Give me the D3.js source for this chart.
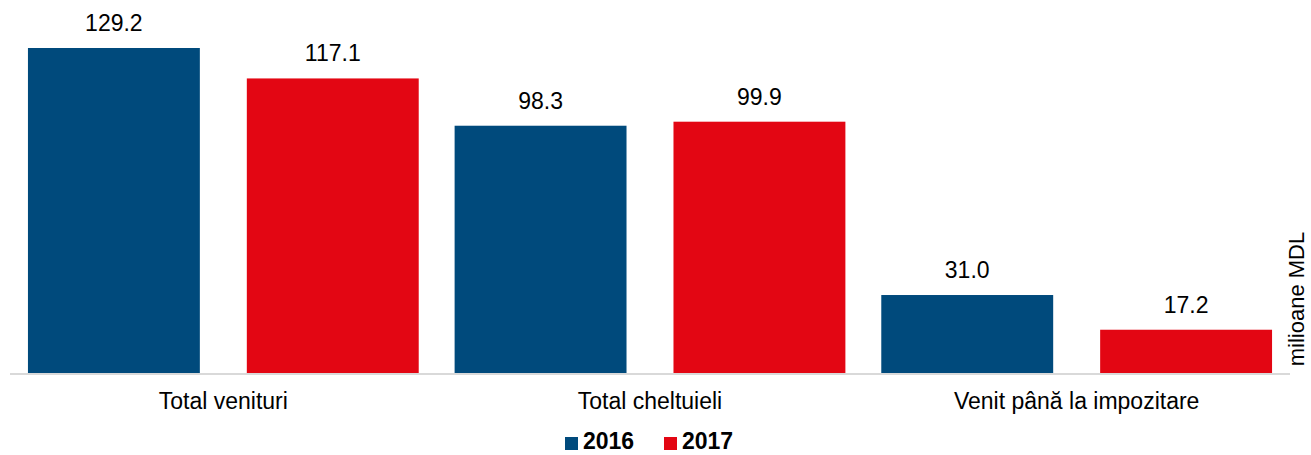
<!DOCTYPE html>
<meta charset="utf-8">
<style>
body { margin: 0; background: #fff; }
text { font-family: "Liberation Sans", Arial, sans-serif; fill: #000; }
.value { font-size: 23px; }
.legend text { font-size: 23px; font-weight: bold; }
.ytitle { font-size: 22px; }
</style>
<body>
<script src="https://d3js.org/d3.v7.min.js"></script>
<script>

const width = 1311;
const height = 455;

const categories = ["Total venituri", "Total cheltuieli", "Venit până la impozitare"];
const series = ["2016", "2017"];
const values2016 = [129.2, 98.3, 31.0];
const values2017 = [117.1, 99.9, 17.2];
const colors = ["#004a7c", "#e30613"];

const data = categories.map((c, i) => ({
  cat: c,
  vals: [
    {key: "2016", value: values2016[i]},
    {key: "2017", value: values2017[i]}
  ]
}));

const svg = d3.select("body").append("svg")
    .attr("width", width)
    .attr("height", height);

const x0 = d3.scaleBand()
    .domain(categories)
    .range([10, 1290]);

const x1 = d3.scaleBand()
    .domain(series)
    .range([0, x0.bandwidth()])
    .paddingInner(0.2146)
    .paddingOuter(0.082);

const color = d3.scaleOrdinal().domain(series).range(colors);

const y = d3.scaleLinear()
    .domain([0, 129.2])
    .range([373, 48]);

const group = svg.selectAll(".group")
    .data(data)
  .enter().append("g")
    .attr("class", "group")
    .attr("transform", d => `translate(${x0(d.cat)},0)`);

group.selectAll("rect")
    .data(d => d.vals)
  .enter().append("rect")
    .attr("x", d => x1(d.key))
    .attr("y", d => y(d.value))
    .attr("width", x1.bandwidth())
    .attr("height", d => y(0) - y(d.value))
    .attr("fill", d => color(d.key));

group.selectAll(".value")
    .data(d => d.vals)
  .enter().append("text")
    .attr("class", "value")
    .attr("x", d => x1(d.key) + x1.bandwidth() / 2)
    .attr("y", d => y(d.value) - 17)
    .attr("text-anchor", "middle")
    .text(d => d.value.toFixed(1));

// baseline
svg.append("line")
    .attr("x1", 10)
    .attr("x2", 1290)
    .attr("y1", y(0) + 1)
    .attr("y2", y(0) + 1)
    .attr("stroke", "#d9d9d9")
    .attr("stroke-width", 2);

// category labels
const xAxis = svg.append("g")
    .attr("transform", `translate(0,${y(0)})`)
    .call(d3.axisBottom(x0).tickSize(0).tickPadding(0));
xAxis.select(".domain").remove();
xAxis.selectAll("text")
    .attr("dy", null)
    .attr("y", 36)
    .style("font-size", "23px")
    .style("font-family", "'Liberation Sans', Arial, sans-serif")
    .attr("fill", "#000");

// y title
svg.append("text")
    .attr("class", "ytitle")
    .attr("transform", "translate(1304,299) rotate(-90)")
    .attr("text-anchor", "middle")
    .text("milioane MDL");

// legend
const legend = svg.append("g").attr("class", "legend");
const legendX = [565, 664];
series.forEach((s, i) => {
  legend.append("rect")
      .attr("x", legendX[i])
      .attr("y", 437)
      .attr("width", 13)
      .attr("height", 13)
      .attr("fill", color(s));
  legend.append("text")
      .attr("x", legendX[i] + 18)
      .attr("y", 449)
      .text(s);
});

</script>
</body>
